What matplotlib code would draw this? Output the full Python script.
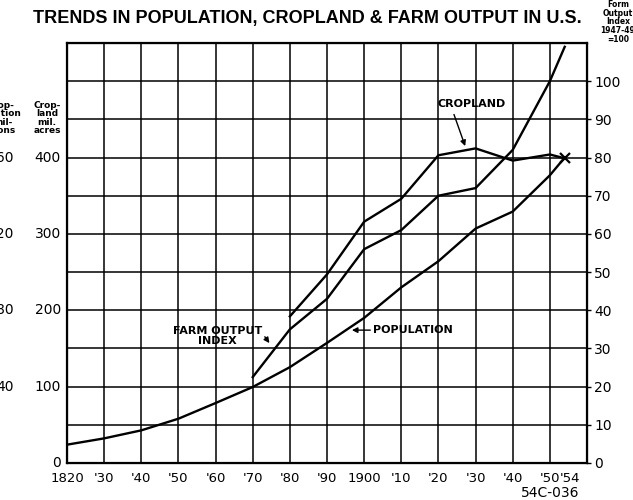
"""
Trends in population, cropland and farm output in the U.S., 1820-1954.
"""

import matplotlib
matplotlib.use("Agg")
import matplotlib.pyplot as plt
import matplotlib.transforms as mtransforms

# Data

pop_years = [1820, 1830, 1840, 1850, 1860, 1870, 1880, 1890, 1900,
             1910, 1920, 1930, 1940, 1950, 1954]
population = [9.6, 12.9, 17.1, 23.2, 31.4, 39.8, 50.2, 62.9, 76.0,
              92.0, 105.7, 122.8, 131.7, 150.7, 160.0]      # millions

crop_years = [1880, 1890, 1900, 1910, 1920, 1930, 1940, 1950, 1954]
cropland = [192, 247, 316, 346, 403, 412, 396, 404, 399]   # mil. acres

farm_years = [1870, 1880, 1890, 1900, 1910, 1920, 1930, 1940, 1950, 1954]
farm_output = [22.5, 35, 43, 56, 61, 70, 72, 82, 100, 109]  # 1947-49 = 100

decade_ticks = list(range(1820, 1951, 10)) + [1954]
decade_labels = ["1820", "'30", "'40", "'50", "'60", "'70", "'80", "'90",
                 "1900", "'10", "'20", "'30", "'40", "'50", "'54"]
crop_ticks = [0, 100, 200, 300, 400]
pop_ticks = [40, 80, 120, 160]
index_ticks = list(range(0, 101, 10))

FONT = "DejaVu Sans"
W, H = 633, 500

fig = plt.figure(figsize=(W / 100, H / 100), dpi=100)
ax = fig.add_axes([67 / W, 37 / H, 520 / W, 420 / H])

# Cropland axis (main)
ax.set_xlim(1820, 1960)
ax.set_ylim(0, 550)
ax.set_xticks(range(1820, 1961, 10))
ax.set_yticks(range(0, 551, 50))
ax.grid(True, color="black", linewidth=1.1)
ax.tick_params(length=0, labelleft=False, labelbottom=False)
for sp in ax.spines.values():
    sp.set_linewidth(1.6)

ax.plot(crop_years, cropland, color="black", linewidth=1.7, zorder=4)
ax.plot(crop_years[-1], cropland[-1], marker="x", color="black",
        markersize=7, mew=1.6, zorder=5)

# Farm output index axis (right)
ax_idx = ax.twinx()
ax_idx.set_ylim(0, 110)
ax_idx.set_yticks(index_ticks)
ax_idx.set_yticklabels([str(v) for v in index_ticks], fontsize=10,
                       fontfamily=FONT)
ax_idx.tick_params(axis="y", length=3, width=1, pad=2)
ax_idx.plot(farm_years, farm_output, color="black", linewidth=1.7,
            zorder=4, clip_on=False)

# Population axis (hidden, scale shown as text on the far left)
ax_pop = ax.twinx()
ax_pop.set_ylim(0, 220)
ax_pop.axis("off")
ax_pop.plot(pop_years, population, color="black", linewidth=1.7, zorder=4)

# Left tick labels: cropland and the clipped population column
tr_crop = mtransforms.blended_transform_factory(fig.transFigure, ax.transData)
for v in crop_ticks:
    fig.text(61 / W, v, str(v), transform=tr_crop, ha="right", va="center",
             fontsize=10, fontfamily=FONT)
tr_pop = mtransforms.blended_transform_factory(fig.transFigure, ax_pop.transData)
for v in pop_ticks:
    fig.text(14 / W, v, str(v), transform=tr_pop, ha="right", va="center",
             fontsize=10, fontfamily=FONT)

# Bottom tick labels ('54 sits a little right of its year)
tr_x = mtransforms.blended_transform_factory(ax.transData, fig.transFigure)
for yr, lab in zip(decade_ticks, decade_labels):
    shift = 1.4 if lab == "'54" else 0.0
    fig.text(yr + shift, 1 - 478 / H, lab, transform=tr_x, ha="center",
             va="center", fontsize=9.5, fontfamily=FONT)

# Axis captions
fig.text(47 / W, 1 - 118 / H, "Crop-\nland\nmil.\nacres", ha="center",
         va="center", fontsize=6.5, fontweight="bold", fontfamily=FONT,
         linespacing=0.95)
fig.text(3 / W, 1 - 118 / H, "Pop-\nulation\nmil-\nlions", ha="center",
         va="center", fontsize=6.5, fontweight="bold", fontfamily=FONT,
         linespacing=0.95)
fig.text(618 / W, 1 - 22 / H, "Form\nOutput\nIndex\n1947-49\n=100",
         ha="center", va="center", fontsize=5.5, fontweight="bold",
         fontfamily=FONT, linespacing=0.95)

# Title and code
fig.text(307 / W, 1 - 18 / H,
         "TRENDS IN POPULATION, CROPLAND & FARM OUTPUT IN U.S.",
         ha="center", va="center", fontsize=13, fontweight="bold",
         fontfamily="Liberation Sans")
fig.text(550 / W, 1 - 493 / H, "54C-036", ha="center", va="center",
         fontsize=10, fontfamily=FONT)

# Curve labels
ax.annotate("CROPLAND", xy=(1927.2, 415), xytext=(1929, 470),
            ha="center", va="center", fontsize=8, fontweight="bold",
            fontfamily=FONT,
            arrowprops=dict(arrowstyle="-|>", color="black", lw=1,
                            shrinkA=2, shrinkB=0, mutation_scale=8,
                            relpos=(0.21, 0.0)))
ax.annotate("FARM OUTPUT\nINDEX", xy=(1874.5, 157), xytext=(1860.5, 166),
            ha="center", va="center", fontsize=8, fontweight="bold",
            fontfamily=FONT, linespacing=1.0,
            arrowprops=dict(arrowstyle="-|>", color="black", lw=1,
                            shrinkA=0, shrinkB=0, mutation_scale=8,
                            relpos=(0.97, 0.85)))
ax.annotate("POPULATION", xy=(1896.7, 174), xytext=(1902.4, 174),
            ha="left", va="center", fontsize=8, fontweight="bold",
            fontfamily=FONT,
            arrowprops=dict(arrowstyle="-|>", color="black", lw=1,
                            shrinkA=0, shrinkB=0, mutation_scale=8,
                            relpos=(0, 0.5)))

fig.savefig("out.png", dpi=100)
